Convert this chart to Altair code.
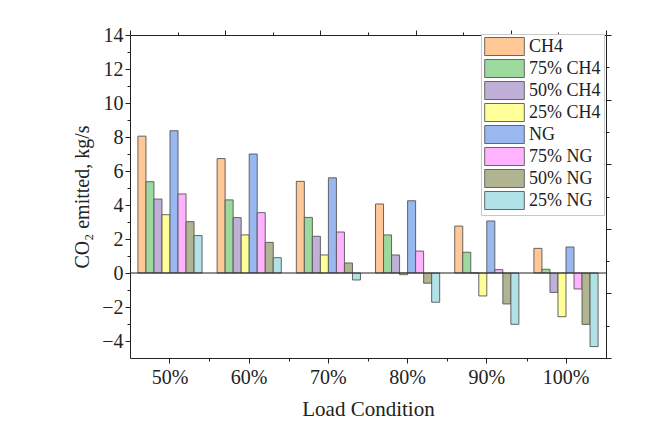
import altair as alt
import pandas as pd

loads = ["50%", "60%", "70%", "80%", "90%", "100%"]
series = ["CH4", "75% CH4", "50% CH4", "25% CH4", "NG", "75% NG", "50% NG", "25% NG"]
colors = ["#FFC896", "#9DD89D", "#C0B0D8", "#FFFF99", "#99B8F0", "#FFB3FF", "#B0B490", "#B0E2E8"]

v_ch4 = [8.05, 6.73, 5.39, 4.06, 2.76, 1.45]
v_75ch4 = [5.37, 4.30, 3.27, 2.24, 1.22, 0.22]
v_50ch4 = [4.35, 3.26, 2.16, 1.06, 0.0, -1.14]
v_25ch4 = [3.43, 2.24, 1.06, -0.10, -1.35, -2.57]
v_ng = [8.37, 7.00, 5.60, 4.25, 3.06, 1.53]
v_75ng = [4.65, 3.55, 2.41, 1.29, 0.20, -0.94]
v_50ng = [3.02, 1.80, 0.59, -0.60, -1.82, -3.02]
v_25ng = [2.20, 0.90, -0.41, -1.72, -3.02, -4.33]

all_vals = [v_ch4, v_75ch4, v_50ch4, v_25ch4, v_ng, v_75ng, v_50ng, v_25ng]

rows = []
for s, vals in zip(series, all_vals):
    for l, v in zip(loads, vals):
        rows.append({"Load": l, "Series": s, "Value": v})
df = pd.DataFrame(rows)

FONT = "Liberation Serif"
one = pd.DataFrame({"a": [0], "b": [12], "z": [0]})

bars = alt.Chart(df).mark_bar(stroke="#555555", strokeWidth=1, strokeOpacity=0.9).encode(
    x=alt.X("Load:N", sort=loads,
            scale=alt.Scale(paddingInner=0.19, paddingOuter=0.1),
            axis=alt.Axis(title="Load Condition", labelAngle=0, tickSize=5,
                          labelFont=FONT, labelFontSize=20, titleFont=FONT,
                          titleFontSize=21, titleFontWeight="normal",
                          labelPadding=4, titlePadding=11,
                          domainColor="#222222", tickColor="#222222", labelColor="#222222",
                          titleColor="#222222")),
    xOffset=alt.XOffset("Series:N", sort=series, scale=alt.Scale(domain=series)),
    y=alt.Y("Value:Q", scale=alt.Scale(domain=[-5, 14], nice=False, zero=False),
            axis=alt.Axis(title="CO₂ emitted, kg/s", values=list(range(-4, 15, 2)),
                          tickSize=5, grid=False, labelFont=FONT, labelFontSize=20,
                          titleFont=FONT, titleFontSize=20, titleFontWeight="normal",
                          labelPadding=2, titlePadding=9,
                          domainColor="#222222", tickColor="#222222", labelColor="#222222",
                          titleColor="#222222")),
    fill=alt.Fill("Series:N", sort=series,
                  scale=alt.Scale(domain=series, range=colors),
                  legend=alt.Legend(title=None, orient="none", legendX=351, legendY=-1,
                                    strokeColor="#c8c8c8", fillColor="white", padding=3,
                                    symbolType="M-2.2,-1H2.2V1H-2.2Z", symbolSize=324,
                                    symbolOffset=11,
                                    symbolStrokeColor="#666666", symbolStrokeWidth=1,
                                    symbolOpacity=1,
                                    labelFont=FONT, labelFontSize=18, labelColor="#222222",
                                    rowPadding=-1, labelOffset=15)),
)

zero = alt.Chart(one).mark_rule(color="#222222", strokeWidth=1.2).encode(
    x=alt.X("a:Q", scale=alt.Scale(domain=[0, 12], nice=False),
            axis=alt.Axis(title=None, orient="bottom", values=[2, 4, 6, 8, 10], tickSize=3,
                          labels=False, domain=False, grid=False, tickColor="#222222")),
    x2="b:Q",
    y=alt.Y("z:Q", scale=alt.Scale(domain=[-5, 14], nice=False, zero=False),
            axis=alt.Axis(title=None, orient="left", values=list(range(-3, 14, 2)),
                          tickSize=3, labels=False, domain=False, grid=False,
                          tickColor="#222222")),
)

frame = alt.Chart(one).mark_point(opacity=0).encode(
    x=alt.X("z:Q", scale=alt.Scale(domain=[0, 5], nice=False),
            axis=alt.Axis(title=None, orient="top", values=[0, 1, 2, 3, 4, 5], tickSize=5,
                          labels=False, grid=False, domainColor="#222222",
                          tickColor="#222222")),
    y=alt.Y("z:Q", scale=alt.Scale(domain=[0, 5], nice=False),
            axis=alt.Axis(title=None, orient="right", values=[0, 1, 2, 3, 4, 5], tickSize=5,
                          labels=False, grid=False, domainColor="#222222",
                          tickColor="#222222")),
)

frame_minor = alt.Chart(one).mark_point(opacity=0).encode(
    x=alt.X("z:Q", scale=alt.Scale(domain=[0, 5], nice=False),
            axis=alt.Axis(title=None, orient="top", values=[0.5, 1.5, 2.5, 3.5, 4.5],
                          tickSize=3, labels=False, domain=False, grid=False,
                          tickColor="#222222")),
    y=alt.Y("z:Q", scale=alt.Scale(domain=[0, 5], nice=False),
            axis=alt.Axis(title=None, orient="right", values=[0.5, 1.5, 2.5, 3.5, 4.5],
                          tickSize=3, labels=False, domain=False, grid=False,
                          tickColor="#222222")),
)

chart = alt.layer(bars, zero, frame, frame_minor).resolve_scale(
    x="independent", y="independent"
).properties(
    width=476, height=323,
    autosize=alt.AutoSizeParams(type="none"),
    padding={"left": 122, "top": 27, "right": 30, "bottom": 61},
).configure_view(strokeWidth=0)

chart.save("out.html", embed_options={"renderer": "svg", "actions": False})
